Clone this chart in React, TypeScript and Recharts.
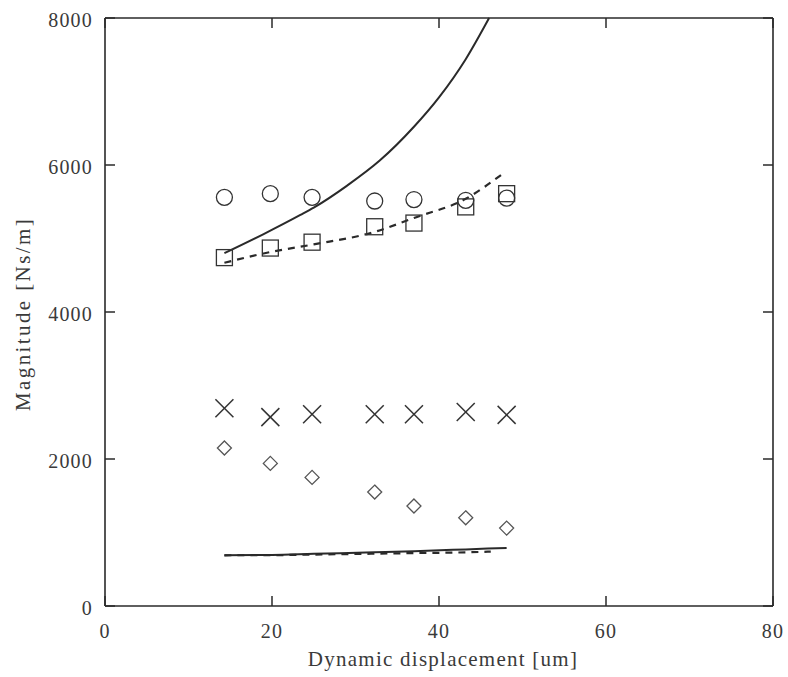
import React from "react";
import { ComposedChart, Line, Scatter, XAxis, YAxis } from "recharts";

// measured displacement positions [um]
const displacement = [14.3, 19.8, 24.8, 32.3, 37.0, 43.2, 48.1];
// marker series [Ns/m]
const circleValues = [5560, 5610, 5560, 5510, 5530, 5520, 5550];
const squareValues = [4740, 4870, 4950, 5160, 5210, 5430, 5610];
const crossValues = [2690, 2570, 2610, 2610, 2610, 2640, 2600];
const diamondValues = [2150, 1940, 1750, 1550, 1360, 1200, 1060];

// model curves
const upperSolidX = [14.3, 19, 23.4, 25, 29, 32.9, 37, 40, 43.2, 46];
const upperSolidY = [4800, 5060, 5320, 5420, 5720, 6060, 6520, 6920, 7440, 8000];
const upperDashedX = [14.3, 20, 25, 32.3, 37, 43.2, 47.5];
const upperDashedY = [4670, 4820, 4920, 5090, 5280, 5540, 5870];
const lowerSolidX = [14.3, 20, 25, 32.3, 37, 43.2, 48.1];
const lowerSolidY = [690, 695, 710, 730, 745, 770, 790];
const lowerDashedX = [14.3, 20, 25, 32.3, 37, 43.2, 46.2];
const lowerDashedY = [690, 692, 700, 712, 720, 730, 740];

const xTicks = [0, 20, 40, 60, 80];
const yTicks = [0, 2000, 4000, 6000, 8000];

const xLabel = "Dynamic displacement [um]";
const yLabel = "Magnitude [Ns/m]";

const toPoints = (xs: number[], ys: number[]) => xs.map((x, i) => ({ x, y: ys[i] }));

const FONT = "'Liberation Serif', 'DejaVu Serif', serif";
const INK = "#2a2a2a";
const TXT = "#3a3a3a";

const bottomTick = (props: any) => {
  const { x, y, payload } = props;
  return (
    <g>
      <line x1={x} y1={y} x2={x} y2={y - 10} stroke={INK} strokeWidth={1.5} />
      <text x={x} y={y + 32} textAnchor="middle" fontFamily={FONT} fontSize={20} letterSpacing={1.2} fill={TXT}>
        {String(payload.value)}
      </text>
    </g>
  );
};

const leftTick = (props: any) => {
  const { x, y, payload } = props;
  return (
    <g>
      <line x1={x} y1={y} x2={x + 10} y2={y} stroke={INK} strokeWidth={1.5} />
      <text x={x - 12} y={y + 9} textAnchor="end" fontFamily={FONT} fontSize={20} letterSpacing={1.2} fill={TXT}>
        {String(payload.value)}
      </text>
    </g>
  );
};

const topTick = (props: any) => {
  const { x, y } = props;
  return <line x1={x} y1={y} x2={x} y2={y + 10} stroke={INK} strokeWidth={1.5} />;
};

const rightTick = (props: any) => {
  const { x, y } = props;
  return <line x1={x} y1={y} x2={x - 10} y2={y} stroke={INK} strokeWidth={1.5} />;
};

const YLabel = (props: any) => {
  const vb = props.viewBox || { x: 0, y: 18, width: 105, height: 588 };
  const cx = vb.x + 23;
  const cy = vb.y + vb.height / 2 + 2;
  return (
    <text
      x={cx}
      y={cy}
      transform={`rotate(-90, ${cx}, ${cy})`}
      textAnchor="middle"
      dominantBaseline="central"
      fontFamily={FONT}
      fontSize={21}
      letterSpacing={2.4}
      fill={TXT}
    >
      {yLabel}
    </text>
  );
};

const XLabel = (props: any) => {
  const vb = props.viewBox || { x: 105, y: 606, width: 667, height: 71 };
  return (
    <text
      x={vb.x + vb.width / 2 + 4}
      y={vb.y + 60}
      textAnchor="middle"
      fontFamily={FONT}
      fontSize={21}
      letterSpacing={1.25}
      fill={TXT}
    >
      {xLabel}
    </text>
  );
};

const Circle = (p: any) => <circle cx={p.cx} cy={p.cy} r={8} fill="none" stroke="#333" strokeWidth={1.3} />;
const Square = (p: any) => (
  <rect x={p.cx - 8} y={p.cy - 8} width={16} height={16} fill="none" stroke="#333" strokeWidth={1.3} />
);
const Cross = (p: any) => (
  <g stroke="#333" strokeWidth={1.5}>
    <line x1={p.cx - 9} y1={p.cy - 9} x2={p.cx + 9} y2={p.cy + 9} />
    <line x1={p.cx - 9} y1={p.cy + 9} x2={p.cx + 9} y2={p.cy - 9} />
  </g>
);
const Diamond = (p: any) => (
  <polygon
    points={`${p.cx},${p.cy - 7} ${p.cx + 7},${p.cy} ${p.cx},${p.cy + 7} ${p.cx - 7},${p.cy}`}
    fill="none"
    stroke="#555"
    strokeWidth={1.3}
  />
);
const Nothing = () => <g />;

const axisLineStyle = { stroke: INK, strokeWidth: 1.6 };

export default function App() {
  return (
    <div style={{ position: "absolute", left: 0, top: 0, background: "#fff" }}>
      <ComposedChart width={788} height={677} margin={{ top: 17, right: 14, left: 0, bottom: 0 }}>
        <XAxis
          xAxisId="b"
          dataKey="x"
          type="number"
          domain={[0, 80]}
          ticks={xTicks}
          orientation="bottom"
          height={71}
          tickSize={0}
          tickMargin={0}
          tickLine={false}
          axisLine={axisLineStyle}
          tick={bottomTick}
          label={<XLabel />}
        />
        <XAxis
          xAxisId="t"
          dataKey="x"
          type="number"
          domain={[0, 80]}
          ticks={xTicks}
          orientation="top"
          height={1}
          tickSize={0}
          tickMargin={0}
          tickLine={false}
          axisLine={axisLineStyle}
          tick={topTick}
        />
        <YAxis
          yAxisId="l"
          dataKey="y"
          type="number"
          domain={[0, 8000]}
          ticks={yTicks}
          orientation="left"
          width={105}
          tickSize={0}
          tickMargin={0}
          tickLine={false}
          axisLine={axisLineStyle}
          tick={leftTick}
          label={<YLabel />}
        />
        <YAxis
          yAxisId="r"
          dataKey="y"
          type="number"
          domain={[0, 8000]}
          ticks={yTicks}
          orientation="right"
          width={1}
          tickSize={0}
          tickMargin={0}
          tickLine={false}
          axisLine={axisLineStyle}
          tick={rightTick}
        />
        <Line
          xAxisId="b"
          yAxisId="l"
          data={toPoints(upperSolidX, upperSolidY)}
          dataKey="y"
          type="monotone"
          stroke={INK}
          strokeWidth={2}
          dot={false}
          isAnimationActive={false}
        />
        <Line
          xAxisId="b"
          yAxisId="l"
          data={toPoints(upperDashedX, upperDashedY)}
          dataKey="y"
          type="monotone"
          stroke={INK}
          strokeWidth={2.2}
          strokeDasharray="7 6"
          dot={false}
          isAnimationActive={false}
        />
        <Line
          xAxisId="b"
          yAxisId="l"
          data={toPoints(lowerSolidX, lowerSolidY)}
          dataKey="y"
          type="monotone"
          stroke={INK}
          strokeWidth={2}
          dot={false}
          isAnimationActive={false}
        />
        <Line
          xAxisId="b"
          yAxisId="l"
          data={toPoints(lowerDashedX, lowerDashedY)}
          dataKey="y"
          type="monotone"
          stroke={INK}
          strokeWidth={2.2}
          strokeDasharray="7 6"
          dot={false}
          isAnimationActive={false}
        />
        <Scatter xAxisId="b" yAxisId="l" data={toPoints(displacement, circleValues)} dataKey="y" shape={<Circle />} isAnimationActive={false} />
        <Scatter xAxisId="b" yAxisId="l" data={toPoints(displacement, squareValues)} dataKey="y" shape={<Square />} isAnimationActive={false} />
        <Scatter xAxisId="b" yAxisId="l" data={toPoints(displacement, crossValues)} dataKey="y" shape={<Cross />} isAnimationActive={false} />
        <Scatter xAxisId="b" yAxisId="l" data={toPoints(displacement, diamondValues)} dataKey="y" shape={<Diamond />} isAnimationActive={false} />
        <Scatter xAxisId="t" yAxisId="r" data={toPoints(displacement, crossValues)} dataKey="y" shape={<Nothing />} isAnimationActive={false} />
      </ComposedChart>
    </div>
  );
}
